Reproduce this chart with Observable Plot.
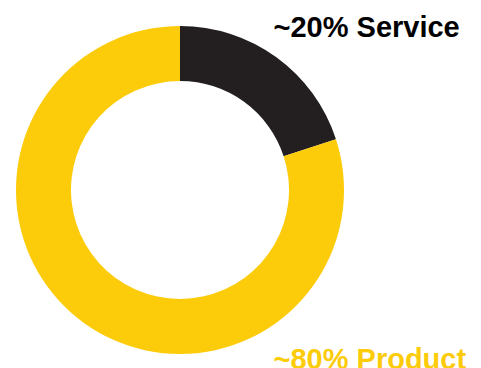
<!DOCTYPE html>
<html>
<head>
<meta charset="utf-8">
<script src="https://cdn.jsdelivr.net/npm/d3@7"></script>
<script src="https://cdn.jsdelivr.net/npm/@observablehq/plot@0.6"></script>
<style>
  html, body { margin: 0; padding: 0; background: #fff; }
  #chart svg { overflow: visible; }
</style>
</head>
<body>
<div id="chart"></div>
<script>
const categories = ["Service", "Product"];
const shares = [20, 80];
const colors = ["#231F20", "#FCCB0A"];
const labelColors = ["#000000", "#FCCB0A"];

const data = categories.map((c, i) => ({category: c, value: shares[i]}));

const W = 481, H = 368;
const cx = 180, cy = 190, outerR = 164, innerR = 109;

function ringMark(index, scales, values, dimensions) {
  const pie = d3.pie().sort(null).value(d => d.value).startAngle(0).endAngle(2 * Math.PI);
  const arc = d3.arc().innerRadius(innerR).outerRadius(outerR);
  const g = d3.create("svg:g").attr("transform", `translate(${cx},${cy})`);
  const color = scales.color || (c => colors[categories.indexOf(c)]);
  g.selectAll("path")
    .data(pie(data))
    .join("path")
    .attr("d", arc)
    .attr("fill", d => color(d.data.category));
  return g.node();
}

const label = d => `~${d.value}% ${d.category}`;
const textStyle = {
  text: label,
  frameAnchor: "top-left",
  textAnchor: "start",
  lineAnchor: "bottom",
  fontSize: 29,
  fontWeight: "bold",
  fontFamily: "Liberation Sans, Arial, Helvetica, sans-serif"
};

const plot = Plot.plot({
  width: W,
  height: H,
  margin: 0,
  color: {domain: categories, range: colors},
  style: {background: "#fff", fontFamily: "Liberation Sans, Arial, Helvetica, sans-serif"},
  marks: [
    ringMark,
    Plot.text(data.filter(d => d.category === "Service"), {...textStyle, fill: labelColors[0], dx: 273, dy: 36}),
    Plot.text(data.filter(d => d.category === "Product"), {...textStyle, fill: labelColors[1], dx: 273, dy: 368})
  ]
});
document.getElementById("chart").appendChild(plot);
</script>
</body>
</html>
